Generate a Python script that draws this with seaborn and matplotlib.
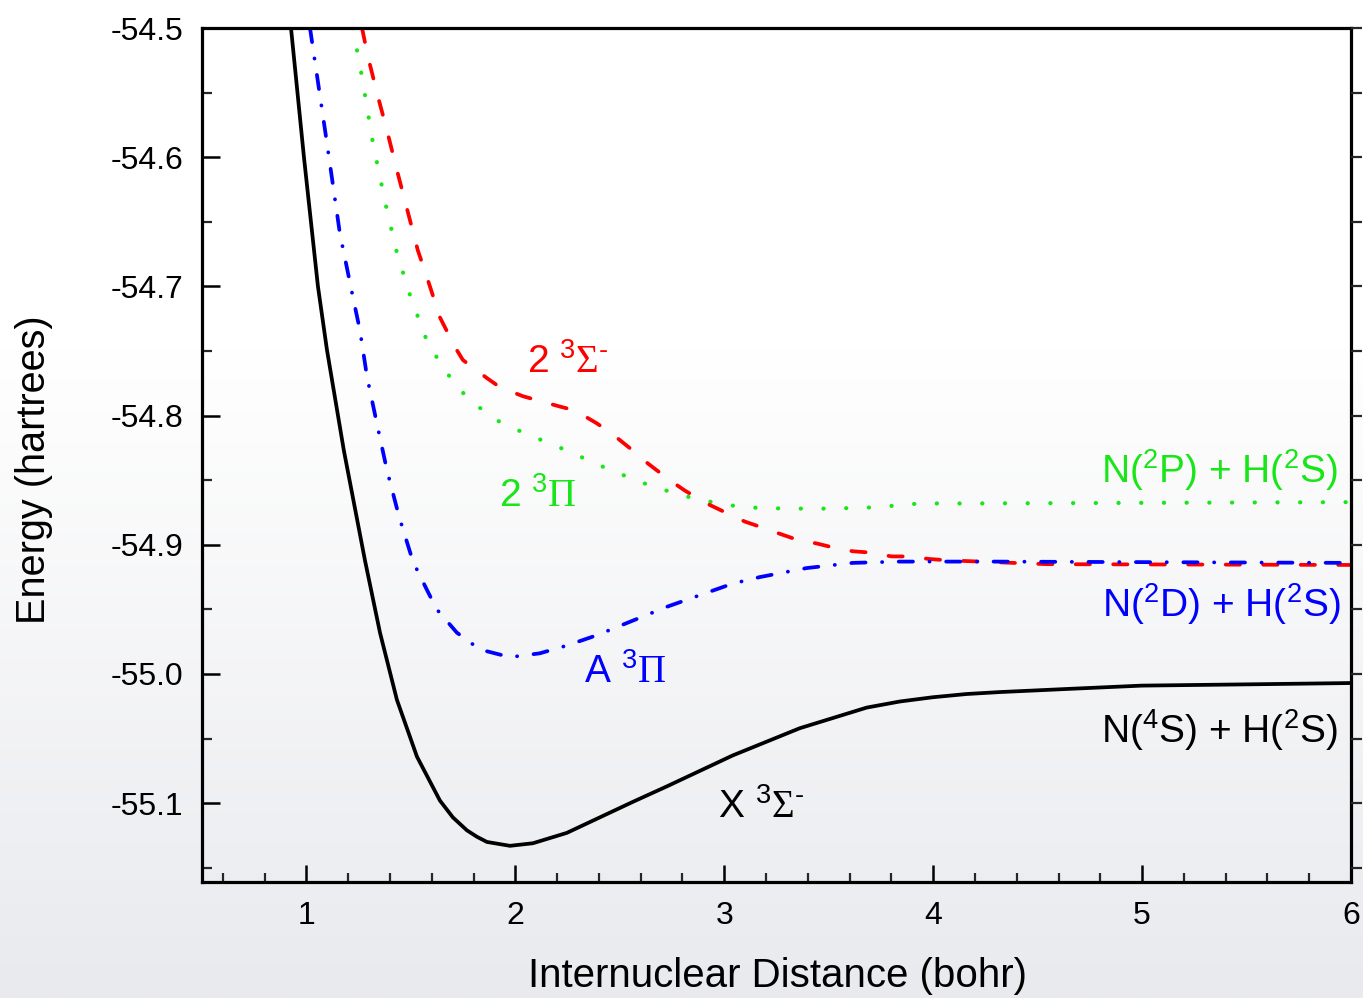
import numpy as np
import pandas as pd
import matplotlib
matplotlib.use("Agg")
import matplotlib.pyplot as plt
from matplotlib.ticker import MultipleLocator, FixedLocator, FixedFormatter
import seaborn as sns

# ---------------- data ----------------
x_X = [0.926, 0.988, 1.055, 1.098, 1.179, 1.280, 1.352, 1.433, 1.529, 1.639, 1.701,
       1.768, 1.816, 1.864, 1.974, 2.084, 2.246, 2.404, 2.562, 2.725, 3.041, 3.361,
       3.682, 3.840, 3.998, 4.160, 4.318, 4.653, 4.998, 5.514, 6.0]
e_X = [-54.500, -54.600, -54.700, -54.749, -54.827, -54.912, -54.968, -55.020, -55.064,
       -55.098, -55.111, -55.121, -55.126, -55.130, -55.133, -55.131, -55.123, -55.111,
       -55.099, -55.087, -55.063, -55.042, -55.026, -55.0213, -55.018, -55.0155, -55.014,
       -55.0115, -55.009, -55.008, -55.007]

x_A = [1.017, 1.098, 1.160, 1.222, 1.256, 1.290, 1.337, 1.385, 1.443, 1.510, 1.577,
       1.624, 1.720, 1.830, 1.974, 2.117, 2.246, 2.390, 2.725, 3.041, 3.170, 3.395,
       3.615, 3.840, 4.285, 6.0]
e_A = [-54.500, -54.589, -54.659, -54.708, -54.734, -54.770, -54.806, -54.842, -54.878,
       -54.913, -54.935, -54.950, -54.968, -54.981, -54.987, -54.984, -54.978, -54.970,
       -54.948, -54.930, -54.925, -54.918, -54.914, -54.913, -54.913, -54.914]

x_2Pi = [1.222, 1.266, 1.318, 1.385, 1.433, 1.500, 1.581, 1.648, 1.720, 1.821, 1.926,
         2.036, 2.246, 2.452, 2.658, 2.873, 3.089, 3.299, 3.514, 3.725, 3.935, 4.141, 6.0]
e_2Pi = [-54.500, -54.538, -54.589, -54.641, -54.674, -54.709, -54.744, -54.761, -54.778,
         -54.793, -54.805, -54.813, -54.827, -54.842, -54.855, -54.865, -54.871, -54.872,
         -54.872, -54.871, -54.868, -54.868, -54.867]

x_2Sig = [1.266, 1.294, 1.342, 1.385, 1.433, 1.533, 1.581, 1.639, 1.711, 1.749, 1.864,
          1.926, 2.036, 2.213, 2.285, 2.390, 2.462, 2.562, 2.634, 2.739, 2.811, 2.916,
          2.993, 3.098, 3.170, 3.275, 3.347, 3.443, 3.519, 3.615, 3.696, 3.801, 3.873,
          3.983, 4.065, 4.543, 6.0]
e_2Sig = [-54.500, -54.522, -54.553, -54.579, -54.610, -54.672, -54.695, -54.724, -54.747,
          -54.757, -54.771, -54.778, -54.785, -54.793, -54.796, -54.806, -54.814, -54.827,
          -54.837, -54.850, -54.858, -54.868, -54.874, -54.882, -54.886, -54.892, -54.896,
          -54.899, -54.902, -54.905, -54.906, -54.909, -54.909, -54.911, -54.912, -54.915,
          -54.9156]

x_ticks = [1, 2, 3, 4, 5, 6]
x_tick_labels = ["1", "2", "3", "4", "5", "6"]
y_ticks = [-55.1, -55.0, -54.9, -54.8, -54.7, -54.6, -54.5]
y_tick_labels = ["-55.1", "-55.0", "-54.9", "-54.8", "-54.7", "-54.6", "-54.5"]

state_labels = ["X $^\\mathregular{3}\\mathsf{\\Sigma}^\\mathregular{\u2010}$",
                "A $^\\mathregular{3}\\mathsf{\\Pi}$",
                "2 $^\\mathregular{3}\\mathsf{\\Pi}$",
                "2 $^\\mathregular{3}\\mathsf{\\Sigma}^\\mathregular{\u2010}$"]
asym_labels = [r"N($^\mathregular{4}$S) + H($^\mathregular{2}$S)",
               r"N($^\mathregular{2}$D) + H($^\mathregular{2}$S)",
               r"N($^\mathregular{2}$P) + H($^\mathregular{2}$S)"]

# ---------------- style ----------------
sns.set_style("ticks")
plt.rcParams["font.family"] = ["Liberation Sans", "DejaVu Sans"]
plt.rcParams["mathtext.fontset"] = "custom"
plt.rcParams["mathtext.rm"] = "Liberation Sans"
plt.rcParams["mathtext.it"] = "Liberation Sans:italic"
plt.rcParams["mathtext.bf"] = "Liberation Sans:bold"
plt.rcParams["mathtext.sf"] = "Liberation Serif"
plt.rcParams["text.color"] = "black"
plt.rcParams["axes.labelcolor"] = "black"
plt.rcParams["axes.unicode_minus"] = False

W, H = 1363, 998
fig = plt.figure(figsize=(W / 100, H / 100), dpi=100)

# background gradient (white at top, light grey at bottom)
bg = fig.add_axes([0, 0, 1, 1], zorder=-10)
t = np.linspace(0, 1, 400)[:, None]  # 0 = bottom
w = np.clip((0.65 - t) / 0.65, 0, 1)
top_c = np.array([1.0, 1.0, 1.0])
bot_c = np.array([233, 234, 238]) / 255.0
img = top_c[None, None, :] * (1 - w[..., None]) + bot_c[None, None, :] * w[..., None]
img = np.repeat(img, 2, axis=1)
bg.imshow(img, origin="lower", aspect="auto", extent=[0, 1, 0, 1])
bg.set_axis_off()

ax = fig.add_axes([202 / W, 1 - 882 / H, (1351 - 202) / W, (882 - 28) / H])
ax.patch.set_alpha(0)

curves = [
    (x_2Pi, e_2Pi, "#19e619", (0.05, 5.4), 3.0),
    (x_2Sig, e_2Sig, "#ff0000", (3.8, 6.2), 2.7),
    (x_A, e_A, "#0000ff", (3.8, 4.4, 0.05, 4.4), 2.7),
    (x_X, e_X, "#000000", None, 2.7),
]
for xs, es, col, dash, lw in curves:
    df = pd.DataFrame({"r": xs, "E": es})
    sns.lineplot(data=df, x="r", y="E", ax=ax, color=col, linewidth=lw,
                 estimator=None, sort=False)
    ln = ax.lines[-1]
    ln.set_linewidth(lw)
    ln.set_solid_capstyle("round")
    ln.set_solid_joinstyle("round")
    if dash is not None:
        ln.set_dashes(dash)
        ln.set_dash_capstyle("round")

ax.set_xlim(0.5, 6.0)
ax.set_ylim(-55.161, -54.5)

ax.xaxis.set_major_locator(FixedLocator(x_ticks))
ax.xaxis.set_major_formatter(FixedFormatter(x_tick_labels))
ax.xaxis.set_minor_locator(MultipleLocator(0.2))
ax.yaxis.set_major_locator(FixedLocator(y_ticks))
ax.yaxis.set_major_formatter(FixedFormatter(y_tick_labels))
ax.yaxis.set_minor_locator(MultipleLocator(0.05))

for s in ax.spines.values():
    s.set_linewidth(2.3)
    s.set_color("black")

ax.tick_params(axis="both", which="major", labelsize=23, width=1.8, color="black",
               labelcolor="black")
ax.tick_params(axis="x", which="major", direction="in", length=12.5, pad=14,
               top=False, bottom=True)
ax.tick_params(axis="x", which="minor", direction="in", length=6.5, width=1.6,
               top=False, bottom=True)
ax.tick_params(axis="y", which="major", direction="in", length=13, pad=13.5,
               left=True, right=False)
ax.tick_params(axis="y", which="minor", direction="in", length=7, width=1.6,
               left=True, right=False)

# right-hand outward ticks (no labels) via twin axis
axr = ax.twinx()
axr.set_ylim(ax.get_ylim())
axr.yaxis.set_major_locator(FixedLocator(y_ticks))
axr.yaxis.set_minor_locator(MultipleLocator(0.05))
axr.tick_params(axis="y", which="both", direction="out", length=8, width=1.6,
                labelright=False)
for s in axr.spines.values():
    s.set_visible(False)
axr.patch.set_alpha(0)

ax.set_xlabel("Internuclear Distance (bohr)", fontsize=29, va="center")
ax.xaxis.set_label_coords((777 - 202) / (1351 - 202), (882 - 976) / (882 - 28))
ax.set_ylabel("Energy (hartrees)", fontsize=28.5, va="center")
ax.yaxis.set_label_coords((34 - 202) / (1351 - 202), (882 - 470) / (882 - 28))

fs = 28
ax.text(2.969, -55.111, state_labels[0], color="#000000", fontsize=fs, ha="left", va="baseline")
ax.text(2.328, -55.007, state_labels[1], color="#0000ff", fontsize=fs, ha="left", va="baseline")
ax.text(1.921, -54.871, state_labels[2], color="#19e619", fontsize=fs, ha="left", va="baseline")
ax.text(2.055, -54.767, state_labels[3], color="#ff0000", fontsize=fs, ha="left", va="baseline")

ax.text(5.935, -55.053, asym_labels[0], color="#000000", fontsize=fs, ha="right", va="baseline")
ax.text(5.95, -54.956, asym_labels[1], color="#0000ff", fontsize=fs, ha="right", va="baseline")
ax.text(5.935, -54.852, asym_labels[2], color="#19e619", fontsize=fs, ha="right", va="baseline")

fig.savefig("out.png", dpi=100)
